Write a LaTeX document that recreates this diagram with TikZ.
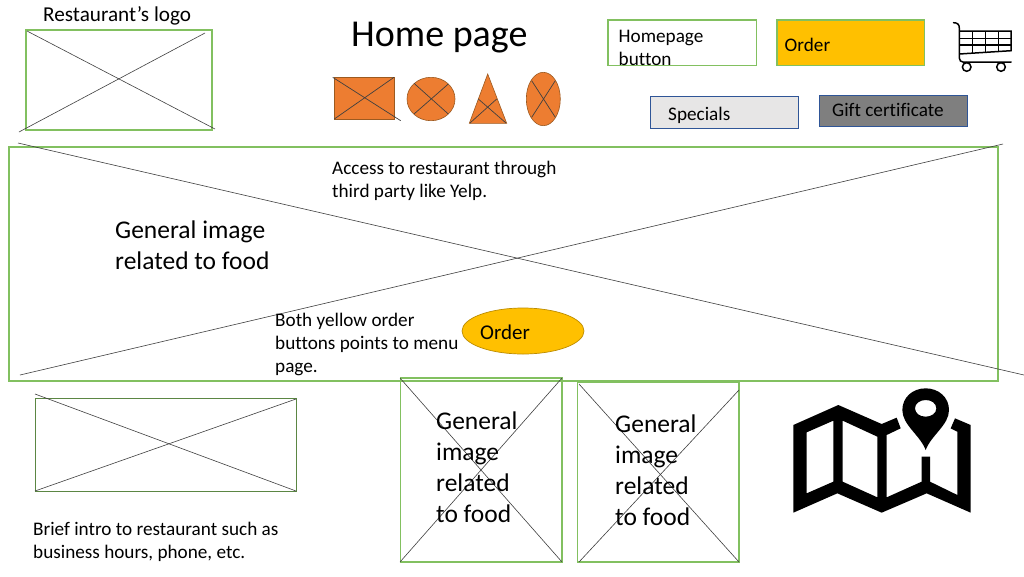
\documentclass[tikz,border=0pt]{standalone}
\usepackage{fontspec}
\usetikzlibrary{shapes.geometric}
\setmainfont{Carlito}[Ligatures=CommonOff]
\definecolor{wfgreen}{HTML}{82C060}
\definecolor{wfline}{HTML}{404040}
\definecolor{wforange}{HTML}{ED7D31}
\definecolor{wfedge}{HTML}{9C5A20}
\definecolor{wfyellow}{HTML}{FFC000}
\definecolor{wfyedge}{HTML}{BC8C00}
\definecolor{wfblue}{HTML}{2F5597}
\definecolor{wfgrey}{HTML}{E7E6E6}
\definecolor{wfdark}{HTML}{7F7F7F}
\tikzset{
  frame/.style={draw=wfgreen,line width=1.4pt},
  crossline/.style={draw=wfline,line width=0.6pt},
  solidshape/.style={fill=wforange,draw=wfedge,line width=0.6pt},
  shapecross/.style={draw=black!75,line width=0.7pt},
  cartline/.style={draw=black,line width=1.5pt},
  small/.style={anchor=north west,inner sep=0pt,align=left,font=\fontsize{19.2}{23}\selectfont},
  big/.style={anchor=north west,inner sep=0pt,align=left,font=\fontsize{25.5}{30.7}\selectfont},
}
\begin{document}
\begin{tikzpicture}[x=1pt,y=-1pt]
\useasboundingbox[fill=white] (0,0) rectangle (1024,576);
\clip (0,0) rectangle (1024,576);

% logo
\draw[frame] (26,30) rectangle (212,130);
\draw[crossline] (27,31) -- (215,129);
\draw[crossline] (205,33) -- (19,132);
\node[anchor=north west,inner sep=0pt,font=\fontsize{21.2}{24}\selectfont] (logo) at (43,6.5) {Restaurant’s logo};

% title
\node[anchor=base west,inner sep=0pt,font=\fontsize{38}{42}\selectfont] (title) at (351,46) {Home page};

% shapes row
\draw[solidshape] (334.3,77.3) rectangle (394,119);
\draw[shapecross] (332.7,77.3) -- (400.7,120.7);
\draw[shapecross] (394,77.3) -- (334.3,119);
\draw[solidshape] (431,99) ellipse [x radius=24,y radius=21.7];
\draw[shapecross] (414,83.3) -- (448.3,114);
\draw[shapecross] (448.3,84) -- (414,114);
\draw[solidshape] (487.7,74) -- (506.7,123.3) -- (469.3,123.3) -- cycle;
\draw[shapecross] (478.3,99) -- (506,123);
\draw[shapecross] (496.7,99) -- (470,123);
\draw[solidshape] (543.3,99) ellipse [x radius=17,y radius=26.7];
\draw[shapecross] (531.7,80.7) -- (555.3,117.3);
\draw[shapecross] (555.3,80.7) -- (531.7,117.3);

% buttons
\draw[frame,fill=white] (608,20) rectangle (756.7,65.7);
\node[small] (home) at (618.5,30) {Homepage\\button};
\draw[frame,fill=wfyellow] (777,20) rectangle (924.7,65.7);
\node[small] (orderb) at (784.5,38) {Order};
\draw[draw=wfblue,line width=0.9pt,fill=wfgrey] (650,96) rectangle (798.7,128.7);
\node[small] (specials) at (668,107) {Specials};
\draw[draw=wfblue,line width=0.9pt,fill=wfdark] (819,95) rectangle (967.7,126.7);
\node[small] (gift) at (832,103) {Gift certificate};

% cart
\draw[cartline,line cap=round] (953.5,22.7) .. controls (957.5,22.7) and (959.3,24.5) .. (959.3,28) -- (959.3,58) .. controls (959.3,60.5) and (961,62) .. (963,62) -- (1011,62);
\draw[cartline] (959.3,31) -- (1011,31) -- (1011,50.7) -- (959.3,54);
\draw[cartline] (959.3,38.3) -- (1011,38.3);
\draw[cartline] (959.3,45) -- (1011,45);
\draw[cartline] (972.3,31) -- (972.3,53);
\draw[cartline] (985.7,31) -- (985.7,52);
\draw[cartline] (998.3,31) -- (998.3,51.5);
\draw[cartline,fill=white] (966.7,67) circle (4.3);
\draw[cartline,fill=white] (1001,67) circle (4.3);

% main image
\draw[frame] (8.8,146.8) rectangle (998,381);
\draw[crossline] (18,143) -- (1024,375);
\draw[crossline] (1003,144) -- (20,375);
\node[small] (access) at (332,161) {Access to restaurant through\\third party like Yelp.};
\node[big] (general) at (115,221) {General image\\related to food};
\node[small] (both) at (275,313) {Both yellow order\\buttons points to menu\\page.};
\node[draw=wfyedge,line width=0.7pt,fill=wfyellow,ellipse,minimum width=122pt,minimum height=46pt,inner sep=0pt] (ordere) at (523,331) {};
\node[anchor=north west,inner sep=0pt,font=\fontsize{21}{24}\selectfont] (ordert) at (480,325) {Order};

% lower left
\draw[frame,draw=wfgreen!70!black,line width=0.9pt] (35,398) rectangle (296,491);
\draw[crossline] (35,394) -- (296,491);
\draw[crossline] (296,399) -- (35,491);
\node[small] (intro) at (33,522) {Brief intro to restaurant such as\\business hours, phone, etc.};

% images
\draw[frame] (400.3,378) rectangle (562,562);
\draw[crossline] (400,378) -- (562,562);
\draw[crossline] (562,378) -- (400,562);
\node[big] (img1) at (436,412) {General\\image\\related\\to food};
\draw[frame] (577.3,382.3) rectangle (739,562);
\draw[crossline] (579,384) -- (739,562);
\draw[crossline] (739,390) -- (579,562);
\node[big] (img2) at (615,415) {General\\image\\related\\to food};

% map icon
\begin{scope}[shift={(780,380)},x=0.33333pt,y=-0.33333pt]
\fill[black,even odd rule]
 (40,135) -- (175,75) -- (305,132) -- (350,113) -- (362,145) -- (320,165) -- (320,352) -- (425,305) -- (425,230) -- (450,230) -- (450,305) -- (532,345) -- (532,155) -- (512,145) -- (525,115) -- (572,135) -- (572,398) -- (440,340) -- (305,398) -- (172,340) -- (40,398) -- cycle
 (80,157) -- (160,122) -- (160,305) -- (80,340) -- cycle
 (188,122) -- (292,170) -- (292,352) -- (188,305) -- cycle;
\fill[black,even odd rule]
 (437,210) .. controls (420,165) and (367,135) .. (367,90) .. controls (367,52) and (398,25) .. (437,25) .. controls (476,25) and (507,52) .. (507,90) .. controls (507,135) and (454,165) .. (437,210) -- cycle
 (437,60) .. controls (420,60) and (405,70) .. (405,85) .. controls (405,100) and (420,110) .. (437,110) .. controls (454,110) and (469,100) .. (469,85) .. controls (469,70) and (454,60) .. (437,60) -- cycle;
\end{scope}
\end{tikzpicture}
\end{document}
